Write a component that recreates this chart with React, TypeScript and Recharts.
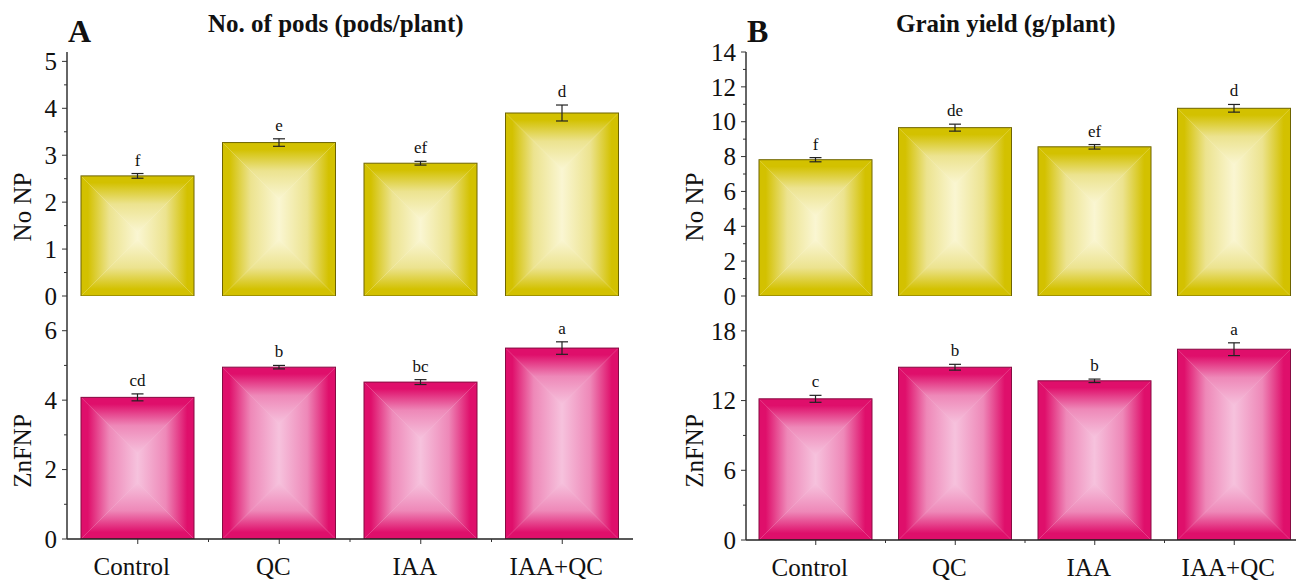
import React from 'react';
import { BarChart, Bar, XAxis, YAxis, ErrorBar, LabelList } from 'recharts';

const categories = ['Control', 'QC', 'IAA', 'IAA+QC'];

// A: number of pods
const podsNoNP = [2.56, 3.27, 2.83, 3.9];
const podsNoNPErr = [0.05, 0.08, 0.04, 0.17];
const podsNoNPLetters = ['f', 'e', 'ef', 'd'];

const podsZnFNP = [4.08, 4.95, 4.52, 5.5];
const podsZnFNPErr = [0.1, 0.05, 0.07, 0.18];
const podsZnFNPLetters = ['cd', 'b', 'bc', 'a'];

// B: grain yield
const yieldNoNP = [7.82, 9.66, 8.56, 10.77];
const yieldNoNPErr = [0.12, 0.2, 0.13, 0.22];
const yieldNoNPLetters = ['f', 'de', 'ef', 'd'];

const yieldZnFNP = [12.15, 14.87, 13.7, 16.42];
const yieldZnFNPErr = [0.3, 0.25, 0.15, 0.55];
const yieldZnFNPLetters = ['c', 'b', 'b', 'a'];

// axis ticks
const podsNoNPMajor = [0, 1, 2, 3, 4, 5];
const podsNoNPMinor = [0.5, 1.5, 2.5, 3.5, 4.5];
const podsZnFNPMajor = [0, 2, 4, 6];
const podsZnFNPMinor = [1, 3, 5];
const yieldNoNPMajor = [0, 2, 4, 6, 8, 10, 12, 14];
const yieldNoNPMinor = [1, 3, 5, 7, 9, 11, 13];
const yieldZnFNPMajor = [0, 6, 12, 18];
const yieldZnFNPMinor = [3, 9, 15];

const SERIF = '"Liberation Serif", "Times New Roman", serif';
const CHART_W = 1320;
const CHART_H = 581;

const YELLOW = { id: 'ylw', edge: '#d3c100', mid: '#ece38f', center: '#faf6d2', line: '#6e6400' };
const PINK = { id: 'pnk', edge: '#df0f6b', mid: '#ee88b8', center: '#f6c2dd', line: '#870b42' };

interface Palette { id: string; edge: string; mid: string; center: string; line: string }

function makeRows(values: number[], errs: number[], letters: string[]) {
  return categories.map((name, i) => ({ name, value: values[i], err: errs[i], letter: letters[i] }));
}

function GradientDefs({ p }: { p: Palette }) {
  const stops = (
    <>
      <stop offset="0" stopColor={p.edge} />
      <stop offset="0.12" stopColor={p.edge} />
      <stop offset="0.5" stopColor={p.mid} />
      <stop offset="1" stopColor={p.center} />
    </>
  );
  return (
    <>
      <linearGradient id={`${p.id}-t`} x1="0" y1="0" x2="0" y2="1">{stops}</linearGradient>
      <linearGradient id={`${p.id}-b`} x1="0" y1="1" x2="0" y2="0">{stops}</linearGradient>
      <linearGradient id={`${p.id}-l`} x1="0" y1="0" x2="1" y2="0">{stops}</linearGradient>
      <linearGradient id={`${p.id}-r`} x1="1" y1="0" x2="0" y2="0">{stops}</linearGradient>
    </>
  );
}

// bar with a mitred "box" gradient: dark edges, light centre
function BoxBar(props: any) {
  const { x, y, width, height, palette } = props;
  if (!height || height <= 0) return null;
  const p: Palette = palette;
  const d = Math.min(width, height) / 2;
  const x2 = x + width;
  const y2 = y + height;
  return (
    <g>
      <rect x={x} y={y} width={width} height={height} fill={p.center} />
      <polygon points={`${x},${y} ${x2},${y} ${x2 - d},${y + d} ${x + d},${y + d}`} fill={`url(#${p.id}-t)`} />
      <polygon points={`${x},${y2} ${x2},${y2} ${x2 - d},${y2 - d} ${x + d},${y2 - d}`} fill={`url(#${p.id}-b)`} />
      <polygon points={`${x},${y} ${x + d},${y + d} ${x + d},${y2 - d} ${x},${y2}`} fill={`url(#${p.id}-l)`} />
      <polygon points={`${x2},${y} ${x2 - d},${y + d} ${x2 - d},${y2 - d} ${x2},${y2}`} fill={`url(#${p.id}-r)`} />
      <rect x={x} y={y} width={width} height={height} fill="none" stroke={p.line} strokeWidth={1} />
    </g>
  );
}

function YTick(props: any) {
  const { x, y, payload, majors } = props;
  const isMajor = majors.includes(payload.value);
  return (
    <g>
      <line x1={x} x2={x - (isMajor ? 5 : 3)} y1={y} y2={y} stroke="#333" strokeWidth={1} />
      {isMajor && (
        <text x={x - 10} y={y} dy="0.35em" textAnchor="end" fontSize={25} fontFamily={SERIF} fill="#111">
          {payload.value}
        </text>
      )}
    </g>
  );
}

function XTick(props: any) {
  const { x, y, payload, index, band } = props;
  return (
    <g>
      <line x1={x} x2={x} y1={y} y2={y + 5} stroke="#333" strokeWidth={1} />
      {index > 0 && <line x1={x - band / 2} x2={x - band / 2} y1={y} y2={y + 3} stroke="#333" strokeWidth={1} />}
      <text x={x - 6} y={y + 36} textAnchor="middle" fontSize={25} fontFamily={SERIF} fill="#111">
        {payload.value}
      </text>
    </g>
  );
}

interface SubplotProps {
  values: number[];
  errs: number[];
  letters: string[];
  domain: [number, number];
  majors: number[];
  minors: number[];
  palette: Palette;
  left: number;
  right: number;
  top: number;
  bottom: number;
  showCategories: boolean;
  topBorder: boolean;
}

function Subplot({ values, errs, letters, domain, majors, minors, palette, left, right, top, bottom, showCategories, topBorder }: SubplotProps) {
  const rows = makeRows(values, errs, letters);
  const band = (right - left) / rows.length;
  const xHeight = showCategories ? 40 : 0;
  const ticks = [...majors, ...minors].sort((a, b) => a - b);

  const renderLetter = (lp: any) => {
    const { x, y, width, height, index } = lp;
    const errPx = (errs[index] * height) / values[index];
    return (
      <text x={x + width / 2} y={y - errPx - 8} textAnchor="middle" fontSize={17} fontFamily={SERIF} fill="#111">
        {letters[index]}
      </text>
    );
  };

  return (
    <div style={{ position: 'absolute', left: 0, top: 0 }}>
      <BarChart
        width={CHART_W}
        height={CHART_H}
        data={rows}
        barSize={113}
        margin={{ top, left: left - 60, right: CHART_W - right, bottom: CHART_H - bottom - xHeight }}
      >
        <XAxis
          dataKey="name"
          height={xHeight}
          interval={0}
          tickSize={0}
          tickMargin={0}
          tickLine={false}
          axisLine={{ stroke: '#222', strokeWidth: showCategories ? 1.5 : 2 }}
          tick={showCategories ? (tp: any) => <XTick {...tp} band={band} /> : false}
        />
        {topBorder && (
          <XAxis xAxisId="top" orientation="top" dataKey="name" height={0} tick={false} tickLine={false} axisLine={{ stroke: '#555' }} />
        )}
        <YAxis
          type="number"
          width={60}
          domain={domain}
          ticks={ticks}
          interval={0}
          allowDataOverflow
          tickSize={0}
          tickMargin={0}
          tickLine={false}
          axisLine={{ stroke: '#333', strokeWidth: 1.5 }}
          tick={(tp: any) => <YTick {...tp} majors={majors} />}
        />
        <YAxis yAxisId="right" orientation="right" width={0} domain={domain} tick={false} tickLine={false} axisLine={{ stroke: '#777' }} />
        <Bar dataKey="value" isAnimationActive={false} shape={(bp: any) => <BoxBar {...bp} palette={palette} />}>
          <ErrorBar dataKey="err" width={6} stroke="#222" strokeWidth={1.2} direction="y" isAnimationActive={false} />
          <LabelList dataKey="letter" content={renderLetter} />
        </Bar>
      </BarChart>
    </div>
  );
}

export default function App() {
  const textStyle = { fontFamily: SERIF, fill: '#111' };
  return (
    <div style={{ position: 'absolute', left: 0, top: 0, width: 1296, height: 581, overflow: 'hidden', background: '#fff' }}>
      {/* A: pods per plant */}
      <Subplot values={podsNoNP} errs={podsNoNPErr} letters={podsNoNPLetters} domain={[0, 5.2]}
        majors={podsNoNPMajor} minors={podsNoNPMinor} palette={YELLOW}
        left={67} right={633} top={52} bottom={296} showCategories={false} topBorder />
      <Subplot values={podsZnFNP} errs={podsZnFNPErr} letters={podsZnFNPLetters} domain={[0, 7]}
        majors={podsZnFNPMajor} minors={podsZnFNPMinor} palette={PINK}
        left={67} right={633} top={296} bottom={539} showCategories topBorder={false} />

      {/* B: grain yield */}
      <Subplot values={yieldNoNP} errs={yieldNoNPErr} letters={yieldNoNPLetters} domain={[0, 14]}
        majors={yieldNoNPMajor} minors={yieldNoNPMinor} palette={YELLOW}
        left={746} right={1304} top={52} bottom={296} showCategories={false} topBorder />
      <Subplot values={yieldZnFNP} errs={yieldZnFNPErr} letters={yieldZnFNPLetters} domain={[0, 21]}
        majors={yieldZnFNPMajor} minors={yieldZnFNPMinor} palette={PINK}
        left={746} right={1304} top={296} bottom={540} showCategories topBorder={false} />

      <svg width={1296} height={581} style={{ position: 'absolute', left: 0, top: 0, pointerEvents: 'none' }}>
        <defs>
          <GradientDefs p={YELLOW} />
          <GradientDefs p={PINK} />
        </defs>
        <text x={68} y={42} fontSize={32} fontWeight="bold" {...textStyle}>A</text>
        <text x={208} y={32} fontSize={25} fontWeight="bold" {...textStyle}>No. of pods (pods/plant)</text>
        <text x={747} y={42} fontSize={32} fontWeight="bold" {...textStyle}>B</text>
        <text x={896} y={32} fontSize={25} fontWeight="bold" {...textStyle}>Grain yield (g/plant)</text>

        <text transform="translate(22,207) rotate(-90)" textAnchor="middle" dominantBaseline="central" fontSize={25} {...textStyle}>No NP</text>
        <text transform="translate(22,451) rotate(-90)" textAnchor="middle" dominantBaseline="central" fontSize={25} {...textStyle}>ZnFNP</text>
        <text transform="translate(694,207) rotate(-90)" textAnchor="middle" dominantBaseline="central" fontSize={25} {...textStyle}>No NP</text>
        <text transform="translate(694,451) rotate(-90)" textAnchor="middle" dominantBaseline="central" fontSize={25} {...textStyle}>ZnFNP</text>
      </svg>
    </div>
  );
}
